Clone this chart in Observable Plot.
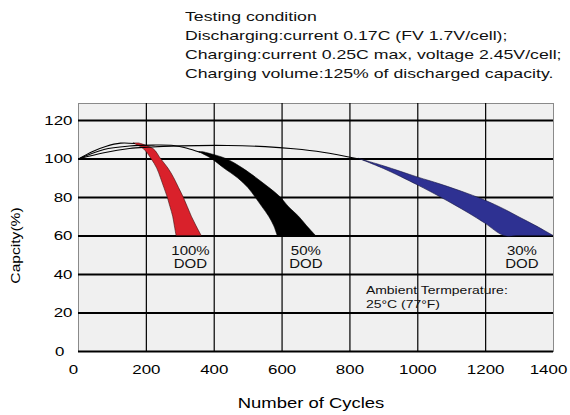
<!DOCTYPE html>
<html><head><meta charset="utf-8">
<script src="https://cdn.jsdelivr.net/npm/d3@7"></script>
<script src="https://cdn.jsdelivr.net/npm/@observablehq/plot@0.6"></script>
<style>
body{margin:0;background:#fff;font-family:"Liberation Sans",Arial,sans-serif;}
#title{position:relative;height:85px;}
#title div{position:absolute;left:185px;top:7px;font-size:13.5px;line-height:19px;transform:scaleX(1.31);transform-origin:0 0;white-space:nowrap;color:#111;}
#chart svg{display:block}
</style></head><body>
<div id="title"><div id="tl"></div></div>
<div id="chart"></div>
<script>
const titleLines = [
  "Testing condition",
  "Discharging:current 0.17C (FV 1.7V/cell);",
  "Charging:current 0.25C max, voltage 2.45V/cell;",
  "Charging volume:125% of discharged capacity."
];
const xTicksInner = [200, 400, 600, 800, 1000, 1200];
const xTicksEdge = [0, 1400];
const yTicksInner = [20, 40, 60, 80, 100, 120];
const yTickZero = [0];
const yGrid = [0, 20, 40, 60, 80, 100, 120];
const xGrid = [200, 400, 600, 800, 1000, 1200];

// initial capacity curves (cycles, capacity %)
const curve100 = [[0,100],[40,103.8],[80,106.5],[124,108.2],[165,108.0]];
const curve50  = [[0,100],[75,104.9],[150,106.7],[220,107.2],[280,107.0],[320,105.6],[358,103.5]];
const curve30  = [[0,100],[75,103.2],[150,105.4],[202,106.1],[300,106.8],[440,107.0],[550,106.4],[634,105.3],[720,103.5],[827,100]];

// 100% DOD band: capacity level, left and right cycles
const band100Y  = [108, 105, 100, 95, 90, 85, 80, 75, 70, 65, 60];
const band100X1 = [163, 193, 215, 232, 243, 253, 263, 271, 279, 284, 289];
const band100X2 = [180, 222, 243, 265, 282, 296, 310, 322, 334, 348, 363];

// 50% DOD band
const band50Y  = [103.5, 100, 95, 90, 85, 80, 75, 70, 65, 60];
const band50X1 = [356, 393, 430, 470, 500, 522, 542, 562, 577, 587];
const band50X2 = [368, 435, 485, 525, 562, 596, 620, 650, 674, 700];

// 30% DOD band: cycles, lower and upper capacity
const band30X  = [827, 900, 1000, 1068, 1150, 1200, 1255, 1300, 1350, 1400];
const band30Y1 = [100, 94.8, 86.3, 80, 71.8, 66.3, 60, 60, 60, 60];
const band30Y2 = [100, 96.2, 90.4, 86.7, 81.7, 78.3, 73.8, 69.6, 65.0, 60];

const dodLabels = ["100%\nDOD", "50%\nDOD", "30%\nDOD"];
const dodX = [330, 670, 1307];
const dodY = [48.8, 48.8, 48.8];
const ambientText = ["Ambient Termperature:\n25°C (77°F)"];
const ambientX = [847];
const ambientY = [28.8];
const xLabel = "Number of Cycles";
const yLabel = "Capcity(%)";

document.getElementById("tl").innerHTML = titleLines.join("<br>");

const toPts = a => a.map(([x, y]) => ({x, y}));
const band100 = band100Y.map((y, i) => ({y, x1: band100X1[i], x2: band100X2[i]}));
const band50 = band50Y.map((y, i) => ({y, x1: band50X1[i], x2: band50X2[i]}));
const band30 = band30X.map((x, i) => ({x, y1: band30Y1[i], y2: band30Y2[i]}));
const dod = dodLabels.map((t, i) => ({t, x: dodX[i], y: dodY[i]}));
const amb = ambientText.map((t, i) => ({t, x: ambientX[i], y: ambientY[i]}));
const fmt = d => String(d);

const chart = Plot.plot({
  width: 570,
  height: 330,
  marginTop: 18,
  marginBottom: 64,
  marginLeft: 78,
  marginRight: 17,
  style: {fontFamily: "'Liberation Sans', Arial, sans-serif", background: "white", color: "black"},
  x: {domain: [0, 1400]},
  y: {domain: [0, 128.8]},
  marks: [
    Plot.frame({fill: "#f0f0f0", stroke: "#8a8a8a"}),
    Plot.ruleX(xGrid, {stroke: "black", strokeWidth: 1.2}),
    Plot.ruleY(yGrid, {stroke: "black", strokeWidth: 2}),
    Plot.areaX(band100, {y: "y", x1: "x1", x2: "x2", curve: "catmull-rom", fill: "#d9212b", stroke: "#3a1010", strokeWidth: 0.6}),
    Plot.areaX(band50, {y: "y", x1: "x1", x2: "x2", curve: "catmull-rom", fill: "black", stroke: "black", strokeWidth: 0.6}),
    Plot.areaY(band30, {x: "x", y1: "y1", y2: "y2", curve: "catmull-rom", fill: "#2e3192", stroke: "#15163f", strokeWidth: 0.6}),
    Plot.line(toPts(curve100), {x: "x", y: "y", curve: "catmull-rom", stroke: "black", strokeWidth: 1.1}),
    Plot.line(toPts(curve50), {x: "x", y: "y", curve: "catmull-rom", stroke: "black", strokeWidth: 1.1}),
    Plot.line(toPts(curve30), {x: "x", y: "y", curve: "catmull-rom", stroke: "black", strokeWidth: 1.1}),
    Plot.text(dod, {x: "x", y: "y", text: "t", fontSize: 12, lineHeight: 1.08, textAnchor: "middle", lineAnchor: "middle", fill: "#111"}),
    Plot.text(amb, {x: "x", y: "y", text: "t", fontSize: 11.2, lineHeight: 1.25, textAnchor: "start", lineAnchor: "middle", fill: "#111"}),
    Plot.axisX({ticks: xTicksInner, tickFormat: fmt, tickSize: 0, tickPadding: 13, fontSize: 13, label: null}),
    Plot.axisX({ticks: xTicksEdge, tickFormat: fmt, tickSize: 0, tickPadding: 13, fontSize: 13, label: null, dx: -5}),
    Plot.axisY({ticks: yTicksInner, tickFormat: fmt, tickSize: 0, tickPadding: 6, fontSize: 13, label: null}),
    Plot.axisY({ticks: yTickZero, tickFormat: fmt, tickSize: 0, tickPadding: 6, fontSize: 13, label: null, dx: -8}),
    Plot.text([xLabel], {frameAnchor: "bottom", lineAnchor: "middle", textAnchor: "middle", dx: -5, dy: 52, fontSize: 14}),
    Plot.text([yLabel], {frameAnchor: "left", rotate: -90, lineAnchor: "middle", textAnchor: "middle", dx: -63, dy: 18, fontSize: 12.5})
  ]
});

const stretch = {"13": 1.3, "12": 1.25, "11.2": 1.25, "14": 1.32, "12.5": 1.25};
const isNum = v => v != null && /^-?[\d.]+$/.test(v.trim());
chart.querySelectorAll("text").forEach(t => {
  const fsEl = t.closest("[font-size]");
  const s = stretch[fsEl ? fsEl.getAttribute("font-size") : ""];
  if (!s) return;
  const tr = t.getAttribute("transform");
  if (tr) {
    t.setAttribute("transform", `${tr} scale(${s},1)`);
  } else {
    const x = t.getAttribute("x"), y = t.getAttribute("y");
    const px = isNum(x) ? +x : 0, py = isNum(y) ? +y : 0;
    if (isNum(x)) t.removeAttribute("x");
    if (isNum(y)) t.removeAttribute("y");
    t.setAttribute("transform", `translate(${px},${py}) scale(${s},1)`);
  }
});
document.getElementById("chart").append(chart);
</script>
</body></html>
